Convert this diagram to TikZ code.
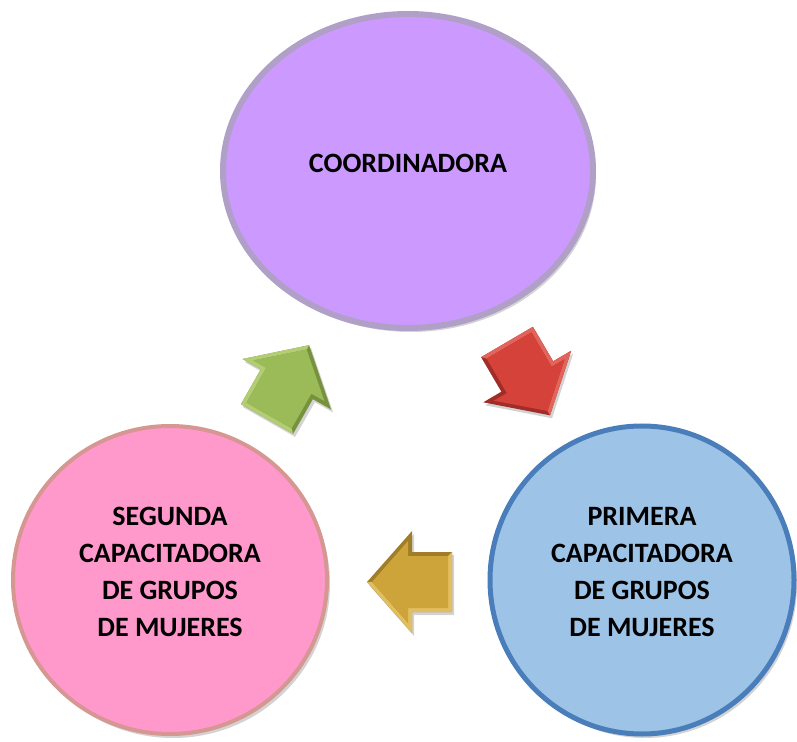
\documentclass[tikz,border=0pt]{standalone}
\usepackage{fontspec}
\setmainfont{Carlito}
\usetikzlibrary{shapes.geometric,shadows}

\definecolor{lila}{RGB}{204,153,255}
\definecolor{lilaborde}{RGB}{176,160,200}
\definecolor{rosa}{RGB}{255,153,204}
\definecolor{rosaborde}{RGB}{214,150,145}
\definecolor{azul}{RGB}{157,195,230}
\definecolor{azulborde}{RGB}{74,126,187}
\definecolor{verde}{RGB}{155,187,89}
\definecolor{verdeclaro}{RGB}{178,205,115}
\definecolor{verdeoscuro}{RGB}{118,146,60}
\definecolor{rojo}{RGB}{212,66,58}
\definecolor{rojoclaro}{RGB}{226,100,90}
\definecolor{rojooscuro}{RGB}{160,45,40}
\definecolor{oro}{RGB}{204,164,58}
\definecolor{oroclaro}{RGB}{225,190,95}
\definecolor{orooscuro}{RGB}{160,126,40}

% flecha de bloque: posicion de la cola, angulo, color
\newcommand{\flecha}[4]{%
  \begin{scope}[shift={#1},rotate=#2]
    \coordinate (#4) at (0,0);
    \fill[#3oscuro,drop shadow={opacity=0.35,shadow xshift=1pt,shadow yshift=-1.5pt}]
      (0,-30) -- (40,-30) -- (40,-51) -- (85,0) -- (40,51) -- (40,30) -- (0,30) -- cycle;
    \fill[#3claro] (0,30) -- (0,-30) -- (40,-30) -- (40,-51) -- (85,0) -- (80,0) -- (44,-41) -- (44,-26) -- (4,-26) -- (4,26) -- cycle;
    \fill[#3] (4,-26) -- (44,-26) -- (44,-41) -- (80,0) -- (44,41) -- (44,26) -- (4,26) -- cycle;
  \end{scope}}

\begin{document}
\begin{tikzpicture}[x=0.5pt,y=-0.5pt,
  circulo/.style={ellipse,inner sep=0pt,
    drop shadow={opacity=0.35,shadow xshift=1.5pt,shadow yshift=-2pt}},
  texto/.style={align=center,font=\bfseries\fontsize{14}{18.5}\selectfont}]
  \useasboundingbox (0,0) rectangle (797,742);

  \node[circulo,fill=lila,draw=lilaborde,line width=3pt,
    minimum width=185pt,minimum height=157pt] (coord) at (408,171) {};
  \node[circulo,fill=rosa,draw=rosaborde,line width=2pt,
    minimum width=157pt,minimum height=154pt] (segunda) at (170,580) {};
  \node[circulo,fill=azul,draw=azulborde,line width=2.5pt,
    minimum width=152pt,minimum height=154pt] (primera) at (642,580) {};

  \node[texto] (tcoord) at ([yshift=4pt]coord.center) {COORDINADORA};
  \node[texto] (tsegunda) at ([yshift=4pt]segunda.center)
    {SEGUNDA\\CAPACITADORA\\DE GRUPOS\\DE MUJERES};
  \node[texto] (tprimera) at ([yshift=4pt]primera.center)
    {PRIMERA\\CAPACITADORA\\DE GRUPOS\\DE MUJERES};

  \flecha{(507,342)}{-59.6}{rojo}{f1}
  \flecha{(452,582)}{180}{oro}{f2}
  \flecha{(267,419)}{60.3}{verde}{f3}
\end{tikzpicture}
\end{document}
